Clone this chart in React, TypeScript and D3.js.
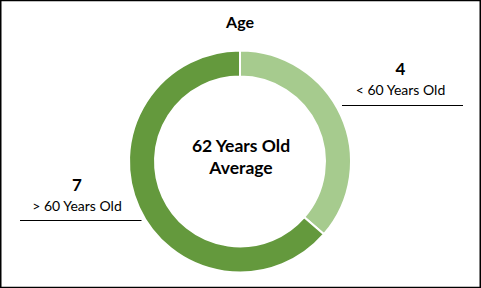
import React from "react";
import * as d3 from "d3";

const categories = ["< 60 Years Old", "> 60 Years Old"];
const values = [4, 7];
const colors = ["#a6cb8e", "#64993d"];
const title = "Age";
const centerLines = ["62 Years Old", "Average"];

const W = 481;
const H = 288;
const FONT = "Lato, 'Noto Sans', sans-serif";

export default function App() {
  const cx = 240;
  const cy = 161.5;
  const outer = 111;
  const inner = 85;
  const pie = d3.pie<number>().sort(null).value((d) => d)(values);
  const arc = d3.arc<d3.PieArcDatum<number>>().innerRadius(inner).outerRadius(outer);

  return (
    <svg
      width={W}
      height={H}
      style={{ position: "absolute", left: 0, top: 0, background: "#fff" }}
      fontFamily={FONT}
    >
      <rect x={0.75} y={0.5} width={W - 1.5} height={H - 1} fill="#fff" stroke="#000" strokeWidth={1.5} />
      <text x={cx} y={28} textAnchor="middle" fontWeight="bold" fontSize={16} fill="#000">
        {title}
      </text>
      <g transform={`translate(${cx},${cy})`}>
        {pie.map((p, i) => (
          <path key={i} d={arc(p) || ""} fill={colors[i]} stroke="#fff" strokeWidth={2} />
        ))}
      </g>
      <text x={cx + 1} y={152} textAnchor="middle" fontWeight="bold" fontSize={17.5} fill="#000">
        {centerLines[0]}
      </text>
      <text x={cx + 1} y={174} textAnchor="middle" fontWeight="bold" fontSize={17.5} fill="#000">
        {centerLines[1]}
      </text>
      {/* right label */}
      <text x={400.5} y={75} textAnchor="middle" fontWeight="bold" fontSize={17} fill="#000">
        {values[0]}
      </text>
      <text x={400.5} y={95} textAnchor="middle" fontSize={14} fill="#000">
        {categories[0]}
      </text>
      <line x1={342} x2={463} y1={105.5} y2={105.5} stroke="#000" strokeWidth={1} />
      {/* left label */}
      <text x={77} y={191} textAnchor="middle" fontWeight="bold" fontSize={17} fill="#000">
        {values[1]}
      </text>
      <text x={77} y={211} textAnchor="middle" fontSize={14} fill="#000">
        {categories[1]}
      </text>
      <line x1={20} x2={141.5} y1={220.5} y2={220.5} stroke="#000" strokeWidth={1} />
    </svg>
  );
}
